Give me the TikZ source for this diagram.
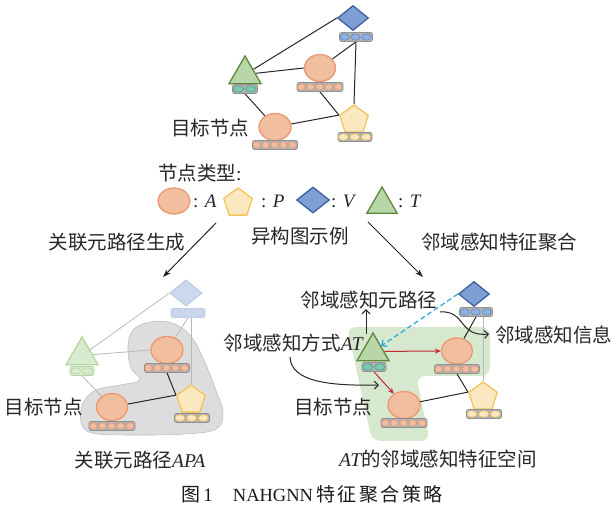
\documentclass[tikz,border=0pt]{standalone}
\usepackage{fontspec}
\setmainfont{Liberation Serif}
\newfontfamily\cjk{Noto Sans CJK SC}
\usetikzlibrary{shapes.geometric,arrows.meta,calc}
\pgfdeclarelayer{back}
\pgfdeclarelayer{edges}
\pgfsetlayers{back,edges,main}

\definecolor{aF}{RGB}{242,190,160}
\definecolor{aD}{RGB}{236,152,112}
\definecolor{pF}{RGB}{252,232,192}
\definecolor{pD}{RGB}{244,196,92}
\definecolor{vF}{RGB}{126,158,212}
\definecolor{vD}{RGB}{62,96,160}
\definecolor{tF}{RGB}{184,214,168}
\definecolor{tD}{RGB}{92,136,62}
\definecolor{vFf}{RGB}{204,216,238}
\definecolor{vDf}{RGB}{190,205,232}
\definecolor{tFf}{RGB}{216,235,206}
\definecolor{tDf}{RGB}{180,214,162}
\definecolor{barF}{RGB}{178,178,178}
\definecolor{barD}{RGB}{145,145,145}
\definecolor{cB}{RGB}{142,176,226}
\definecolor{cBd}{RGB}{100,136,196}
\definecolor{cT}{RGB}{122,200,176}
\definecolor{cTd}{RGB}{82,160,140}
\definecolor{greenReg}{RGB}{214,232,206}
\definecolor{blobF}{RGB}{221,221,221}
\definecolor{blobD}{RGB}{190,190,190}
\definecolor{redA}{RGB}{196,40,52}
\definecolor{cyanA}{RGB}{38,168,224}

\newcommand\Lit[1]{{\rmfamily\itshape #1}}
\newcommand\featbar[9]{%
  \node[fbar, minimum width=#5pt, fill=#8, draw=#9] (#1) at (#2,#3) {};
  \foreach \k in {1,...,#4}{%
    \draw[fill=#6, draw=#7, line width=0.6pt] ($(#1.west)+({(\k-0.5)*#5/#4},0)$) ellipse ({(#5/#4/2-0.9)*1pt} and 3.2pt);
  }%
}

\begin{document}
\begin{tikzpicture}[x=1pt,y=-1pt,
  nA/.style={ellipse, draw=aD, fill=aF, line width=1.3pt, minimum width=31pt, minimum height=27pt, inner sep=0pt},
  nP/.style={regular polygon, regular polygon sides=5, draw=pD, fill=pF, line width=1.3pt, minimum size=30pt, inner sep=0pt},
  nV/.style={diamond, draw=vD, fill=vF, line width=1.3pt, minimum width=31pt, minimum height=25pt, inner sep=0pt},
  nT/.style={regular polygon, regular polygon sides=3, draw=tD, fill=tF, line width=1.3pt, minimum size=37pt, inner sep=0pt},
  fbar/.style={rectangle, rounded corners=1.5pt, line width=0.7pt, minimum height=9pt, inner sep=0pt},
  edge/.style={line width=1pt, draw=black!85},
  gedge/.style={line width=0.8pt, draw=black!28},
  txt/.style={font=\cjk\fontsize{19.5}{22}\selectfont, inner sep=0pt, text=black!85},
  ltxt/.style={font=\rmfamily\fontsize{19}{22}\selectfont, inner sep=0pt, text=black!85},
  barb/.style={-{Straight Barb[length=4pt,width=8pt]}},
  stl/.style={-{Stealth[length=8pt,width=5.5pt]}},
  redarrow/.style={line width=1pt, draw=redA, -{Stealth[length=6pt,width=5pt]}},
]
\useasboundingbox (0,0) rectangle (614,510);

% ---------------- top graph ----------------
\node[nV] (V0) at (353,18) {};
\featbar{bV0}{356}{37}{3}{33}{cB}{cBd}{barF}{barD}
\node[nT] (T0) at (245,74.5) {};
\featbar{bT0}{245}{89}{2}{25}{cT}{cTd}{barF}{barD}
\node[nA] (A1) at (320,68) {};
\featbar{bA1}{320}{87}{5}{46}{aF}{aD}{barF}{barD}
\node[nA, minimum width=32pt] (A0) at (275,127) {};
\featbar{bA0}{275}{145}{5}{45}{aF}{aD}{barF}{barD}
\node[nP] (P0) at (354,120) {};
\featbar{bP0}{355}{137}{3}{34}{pF}{pD}{barF}{barD}
\node[txt] (tgtTop) at (210,128) {目标节点};

% ---------------- legend ----------------
\node[txt, anchor=west] (ltitle) at (158,173) {节点类型\rmfamily:};
\node[nA, minimum width=32pt, minimum height=26pt] (LA) at (174,201) {};
\node[ltxt, anchor=west] (LAt) at (193,201) {: \Lit{A}};
\node[nP] (LP) at (238,203) {};
\node[ltxt, anchor=west] (LPt) at (261,201) {: \Lit{P}};
\node[nV, minimum width=33pt, minimum height=26pt] (LV) at (313,200) {};
\node[ltxt, anchor=west] (LVt) at (331,201) {: \Lit{V}};
\node[nT, minimum size=35pt] (LT) at (382,204.5) {};
\node[ltxt, anchor=west] (LTt) at (398,201) {: \Lit{T}};

% ---------------- middle ----------------
\node[txt] (exm) at (300,236) {异构图示例};
\node[txt] (genL) at (117,242) {关联元路径生成};
\node[txt] (aggR) at (499,242) {邻域感知特征聚合};
\coordinate (la1) at (216,223);
\coordinate (la2) at (163,277);
\coordinate (ra1) at (368,222);
\coordinate (ra2) at (423,277);
\draw[edge, stl] (la1) -- (la2);
\draw[edge, stl] (ra1) -- (ra2);

% ---------------- bottom left ----------------
\node[nV, fill=vFf, draw=vDf, minimum width=32pt, minimum height=26pt] (V1) at (186,293) {};
\featbar{bV1}{188}{313}{3}{34}{vFf}{vDf}{vFf}{vDf}
\node[nT, fill=tFf, draw=tDf] (T1) at (82,355.5) {};
\featbar{bT1}{82}{371}{2}{24}{tFf}{tDf}{tFf}{tDf}
\node[nA, minimum width=32pt] (A3) at (167,350) {};
\featbar{bA3}{167}{368}{5}{45}{aF}{aD}{barF}{barD}
\node[nA] (A2) at (112,407) {};
\featbar{bA2}{112}{426}{5}{46}{aF}{aD}{barF}{barD}
\node[nP] (P1) at (191,400) {};
\featbar{bP1}{192}{418}{3}{35}{pF}{pD}{barF}{barD}
\node[txt] (tgtL) at (44,407) {目标节点};
\node[txt] (apa) at (140,460) {关联元路径\Lit{APA}};

% ---------------- bottom right ----------------
\node[nV] (V2) at (474,294) {};
\featbar{bV2}{476}{312}{3}{33}{cB}{cBd}{barF}{barD}
\node[nT] (T2) at (373,351.5) {};
\featbar{bT2}{374}{367}{2}{24}{cT}{cTd}{barF}{barD}
\node[nA, minimum height=26pt] (A5) at (457,351) {};
\featbar{bA5}{457}{369}{5}{45}{aF}{aD}{barF}{barD}
\node[nA, minimum width=32pt] (A4) at (404,405) {};
\featbar{bA4}{404}{423}{5}{46}{aF}{aD}{barF}{barD}
\node[nP] (P2) at (483,397) {};
\featbar{bP2}{484}{414}{3}{35}{pF}{pD}{barF}{barD}

\node[txt] (nmp) at (369,300) {邻域感知元路径};
\node[txt, anchor=east] (nway) at (363,343) {邻域感知方式\Lit{AT}};
\node[txt] (tgtR) at (333,407) {目标节点};
\node[txt, anchor=west] (ninfo) at (495,335) {邻域感知信息};
\node[txt] (space) at (438,459) {\Lit{AT}的邻域感知特征空间};

\coordinate (upS) at (366,334);
\draw[edge, barb] (upS) -- (upS |- nmp.south);
\coordinate (cw1) at (290,357);
\coordinate (cw2) at (379,385);
\draw[edge, barb] (cw1) .. controls (291,382) and (330,386) .. (cw2);
\coordinate (cs1) at (440,312);
\coordinate (cs2) at (489,334);
\draw[edge, barb] (cs1) .. controls (466,310) and (458,337) .. (cs2);

% caption
\node[inner sep=0pt, font=\cjk\fontsize{19}{22}\selectfont, text=black!90] (cap) at (312,494)
  {图\hspace{3pt}{\rmfamily 1}\hspace{20pt}{\rmfamily\fontsize{18.5}{22}\selectfont NAHGNN}\hspace{3pt}特\hspace{2.5pt}征\hspace{2.5pt}聚\hspace{2.5pt}合\hspace{2.5pt}策\hspace{2.5pt}略};

% ---------------- edges ----------------
\begin{pgfonlayer}{edges}
  \draw[edge] (T0) -- (V0.west);
  \draw[edge] (T0) -- (A1.west);
  \draw[edge] (bT0.south) -- (A0);
  \draw[edge] (A1) -- (bV0.south);
  \draw[edge] (bV0.south) -- (P0.corner 1);
  \draw[edge] (bA1.south) -- (P0.corner 2);
  \draw[edge] (A0) -- (P0.corner 2);

  \draw[gedge] (V1.west) -- (T1);
  \draw[gedge] (T1) -- (A3.west);
  \draw[gedge] (A3) -- (bV1.south);
  \draw[gedge] (P1.corner 1) -- (P1.corner 1 |- bV1.south);
  \draw[gedge] (bT1.south) -- (A2);
  \draw[edge] (bA3.south) -- (P1.corner 2);
  \draw[edge] (A2) -- (P1.corner 2);

  \draw[gedge] (P2.corner 1) -- (P2.corner 1 |- bV2.south);
  \draw[edge] (A5) -- (bV2.south);
  \draw[edge] (bA5.south) -- (P2.corner 2);
  \draw[edge] (A4) -- (P2.corner 2);
  \draw[redarrow] (T2) -- (A5.west);
  \draw[redarrow] (bT2.south) -- (A4);
  \draw[cyanA, dashed, dash pattern=on 5pt off 3pt, line width=1.2pt, barb] (V2.west) -- (T2);
\end{pgfonlayer}

% ---------------- regions ----------------
\begin{pgfonlayer}{back}
  \fill[greenReg, rounded corners=9pt] (347,327) -- (490,327) -- (490,376) -- (416,376) -- (430,441) -- (372,441) -- cycle;
  \filldraw[fill=blobF, draw=blobD, line width=0.6pt] plot[smooth cycle, tension=0.6] coordinates
    {(128,347) (133,330) (150,322) (172,323) (190,335) (203,358) (215,388) (223,413) (216,429) (185,434) (130,435) (92,433) (81,422) (83,403) (96,390) (120,385) (140,380) (131,368)};
\end{pgfonlayer}
\end{tikzpicture}
\end{document}
